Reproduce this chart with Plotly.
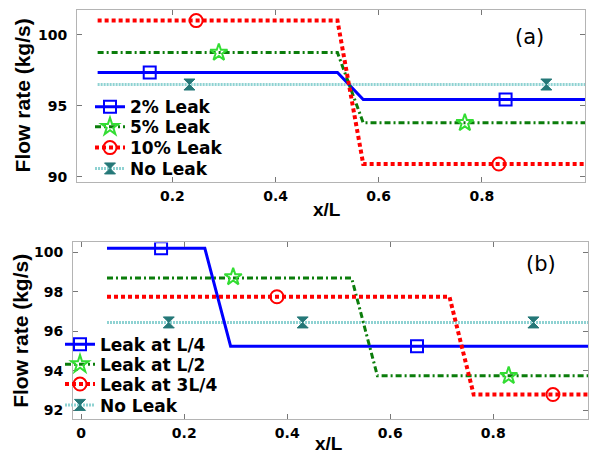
import plotly.graph_objects as go

# ---------------- data: panel (a) ----------------
xa_steps = [0.055, 0.52, 0.57, 1.0]
a_2pct = [97.35, 97.35, 95.45, 95.45]
a_5pct = [98.75, 98.75, 93.8, 93.8]
a_10pct = [101.0, 101.0, 90.9, 90.9]
xa_noleak = [0.055, 1.0]
a_noleak = [96.5, 96.5]

# marker positions panel (a)
am_2pct_x, am_2pct_y = [0.156, 0.846], [97.35, 95.45]
am_5pct_x, am_5pct_y = [0.29, 0.767], [98.75, 93.8]
am_10pct_x, am_10pct_y = [0.246, 0.833], [101.0, 90.9]
am_no_x, am_no_y = [0.233, 0.925], [96.5, 96.5]

# ---------------- data: panel (b) ----------------
xb_L4 = [0.05, 0.24, 0.29, 0.984]
b_L4 = [100.2, 100.2, 95.25, 95.25]
xb_L2 = [0.05, 0.525, 0.575, 0.984]
b_L2 = [98.7, 98.7, 93.75, 93.75]
xb_3L4 = [0.05, 0.715, 0.762, 0.984]
b_3L4 = [97.75, 97.75, 92.8, 92.8]
xb_noleak = [0.05, 0.984]
b_noleak = [96.45, 96.45]

bm_L4_x, bm_L4_y = [0.155, 0.652], [100.2, 95.25]
bm_L2_x, bm_L2_y = [0.295, 0.83], [98.75, 93.75]
bm_3L4_x, bm_3L4_y = [0.38, 0.916], [97.75, 92.8]
bm_no_x, bm_no_y = [0.17, 0.43, 0.878], [96.45, 96.45, 96.45]

labels_a = ["2% Leak", "5% Leak", "10% Leak", "No Leak"]
labels_b = ["Leak at L/4", "Leak at L/2", "Leak at 3L/4", "No Leak"]

xticks_a = [0.2, 0.4, 0.6, 0.8, 1.0]
xticktext_a = ["0.2", "0.4", "0.6", "0.8", "1"]
yticks_a = [90, 95, 100]
xticks_b = [0, 0.2, 0.4, 0.6, 0.8]
xticktext_b = ["0", "0.2", "0.4", "0.6", "0.8"]
yticks_b = [92, 94, 96, 98, 100]

# ---------------- styles ----------------
W, H = 589, 461
FONT_W = "DejaVu Sans, sans-serif"
FONT_N = "Liberation Sans, Arial, sans-serif"
styles = [
    dict(line=dict(color="#0000ff", width=3), marker=dict(symbol="square-open", color="#0000ff", size=12, line=dict(width=2))),
    dict(line=dict(color="#0b7d0b", width=3, dash="6px,3px,2px,3px"), marker=dict(symbol="star-open", color="#33dd33", size=13, line=dict(width=2))),
    dict(line=dict(color="#ff0000", width=4, dash="4px,3px"), marker=dict(symbol="circle-open", color="#ff0000", size=13, line=dict(width=2))),
    dict(line=dict(color="#8fd2d2", width=3, dash="2px,1px"), marker=dict(symbol="hourglass", color="#257878", size=11, line=dict(width=1, color="#257878"))),
]

fig = go.Figure()


def add_panel(lines, markers, labels, xa, ya, legends):
    order = [3, 0, 1, 2]
    for i in order:
        xs, ys = lines[i]
        fig.add_trace(go.Scatter(x=xs, y=ys, mode="lines", line=styles[i]["line"],
                                 showlegend=False, xaxis=xa, yaxis=ya, hoverinfo="skip"))
    for i in range(4):
        mx, my = markers[i]
        px, py = [], []
        for k, (a, b) in enumerate(zip(mx, my)):
            if k:
                px.append(None)
                py.append(None)
            px.append(a)
            py.append(b)
        fig.add_trace(go.Scatter(x=px, y=py, mode="lines+markers", name=labels[i],
                                 line=styles[i]["line"], marker=styles[i]["marker"],
                                 connectgaps=False, xaxis=xa, yaxis=ya, legend=legends[i]))


legends_a = ["legend", "legend2", "legend3", "legend4"]
legends_b = ["legend5", "legend6", "legend7", "legend8"]

add_panel(
    [(xa_steps, a_2pct), (xa_steps, a_5pct), (xa_steps, a_10pct), (xa_noleak, a_noleak)],
    [(am_2pct_x, am_2pct_y), (am_5pct_x, am_5pct_y), (am_10pct_x, am_10pct_y), (am_no_x, am_no_y)],
    labels_a, "x", "y", legends_a)
add_panel(
    [(xb_L4, b_L4), (xb_L2, b_L2), (xb_3L4, b_3L4), (xb_noleak, b_noleak)],
    [(bm_L4_x, bm_L4_y), (bm_L2_x, bm_L2_y), (bm_3L4_x, bm_3L4_y), (bm_no_x, bm_no_y)],
    labels_b, "x2", "y2", legends_b)

axis_common = dict(showline=True, linecolor="#b4b4b4", linewidth=1, mirror="ticks",
                   ticks="inside", ticklen=5, tickcolor="#777777", showgrid=False,
                   zeroline=False, tickfont=dict(family=FONT_W, size=14, color="black", weight="bold"))

leg_common = dict(font=dict(family=FONT_W, size=17, color="black", weight="bold"),
                  bgcolor="rgba(0,0,0,0)", itemwidth=30, tracegroupgap=0,
                  xanchor="left", yanchor="middle", itemsizing="trace")

layout_legends = {}
for name, yc in zip(legends_a, [108, 128, 149, 170]):
    layout_legends[name] = dict(x=90 / W, y=1 - yc / H, **leg_common)
for name, yc in zip(legends_b, [347, 367, 387, 408]):
    layout_legends[name] = dict(x=60 / W, y=1 - yc / H, **leg_common)

fig.update_layout(
    width=W, height=H, margin=dict(l=0, r=0, t=0, b=0),
    paper_bgcolor="white", plot_bgcolor="white",
    xaxis=dict(domain=[77 / W, 585 / W], range=[0.015, 1.0], tickvals=xticks_a, ticktext=xticktext_a,
               anchor="y", ticklabelstandoff=1, **axis_common),
    yaxis=dict(domain=[1 - 183 / H, 1 - 10 / H], range=[89.65, 101.75], tickvals=yticks_a,
               anchor="x", ticklabelstandoff=6, **axis_common),
    xaxis2=dict(domain=[73 / W, 588 / W], range=[-0.016, 0.984], tickvals=xticks_b, ticktext=xticktext_b,
                anchor="y2", ticklabelstandoff=1, **axis_common),
    yaxis2=dict(domain=[1 - 422 / H, 1 - 244 / H], range=[91.55, 100.5], tickvals=yticks_b,
                anchor="x2", ticklabelstandoff=6, **axis_common),
    **layout_legends,
)

ann_font_b = dict(family=FONT_N, size=21, color="black", weight="bold")
ann_font_x = dict(family=FONT_N, size=19, color="black", weight="bold")
ann_font = dict(family=FONT_W, size=21, color="black")
for txt, x, y, ang, f in [
    ("Flow rate (kg/s)", 22, 96, -90, ann_font_b),
    ("Flow rate (kg/s)", 21, 333, -90, ann_font_b),
    ("x/L", 327, 211, 0, ann_font_x),
    ("x/L", 329, 446, 0, ann_font_x),
    ("(a)", 529, 37, 0, ann_font),
    ("(b)", 541, 266, 0, ann_font),
]:
    fig.add_annotation(text=txt, x=x / W, y=1 - y / H, xref="paper", yref="paper",
                       showarrow=False, textangle=ang, font=f, xanchor="center", yanchor="middle")

fig.write_html("out.html")
